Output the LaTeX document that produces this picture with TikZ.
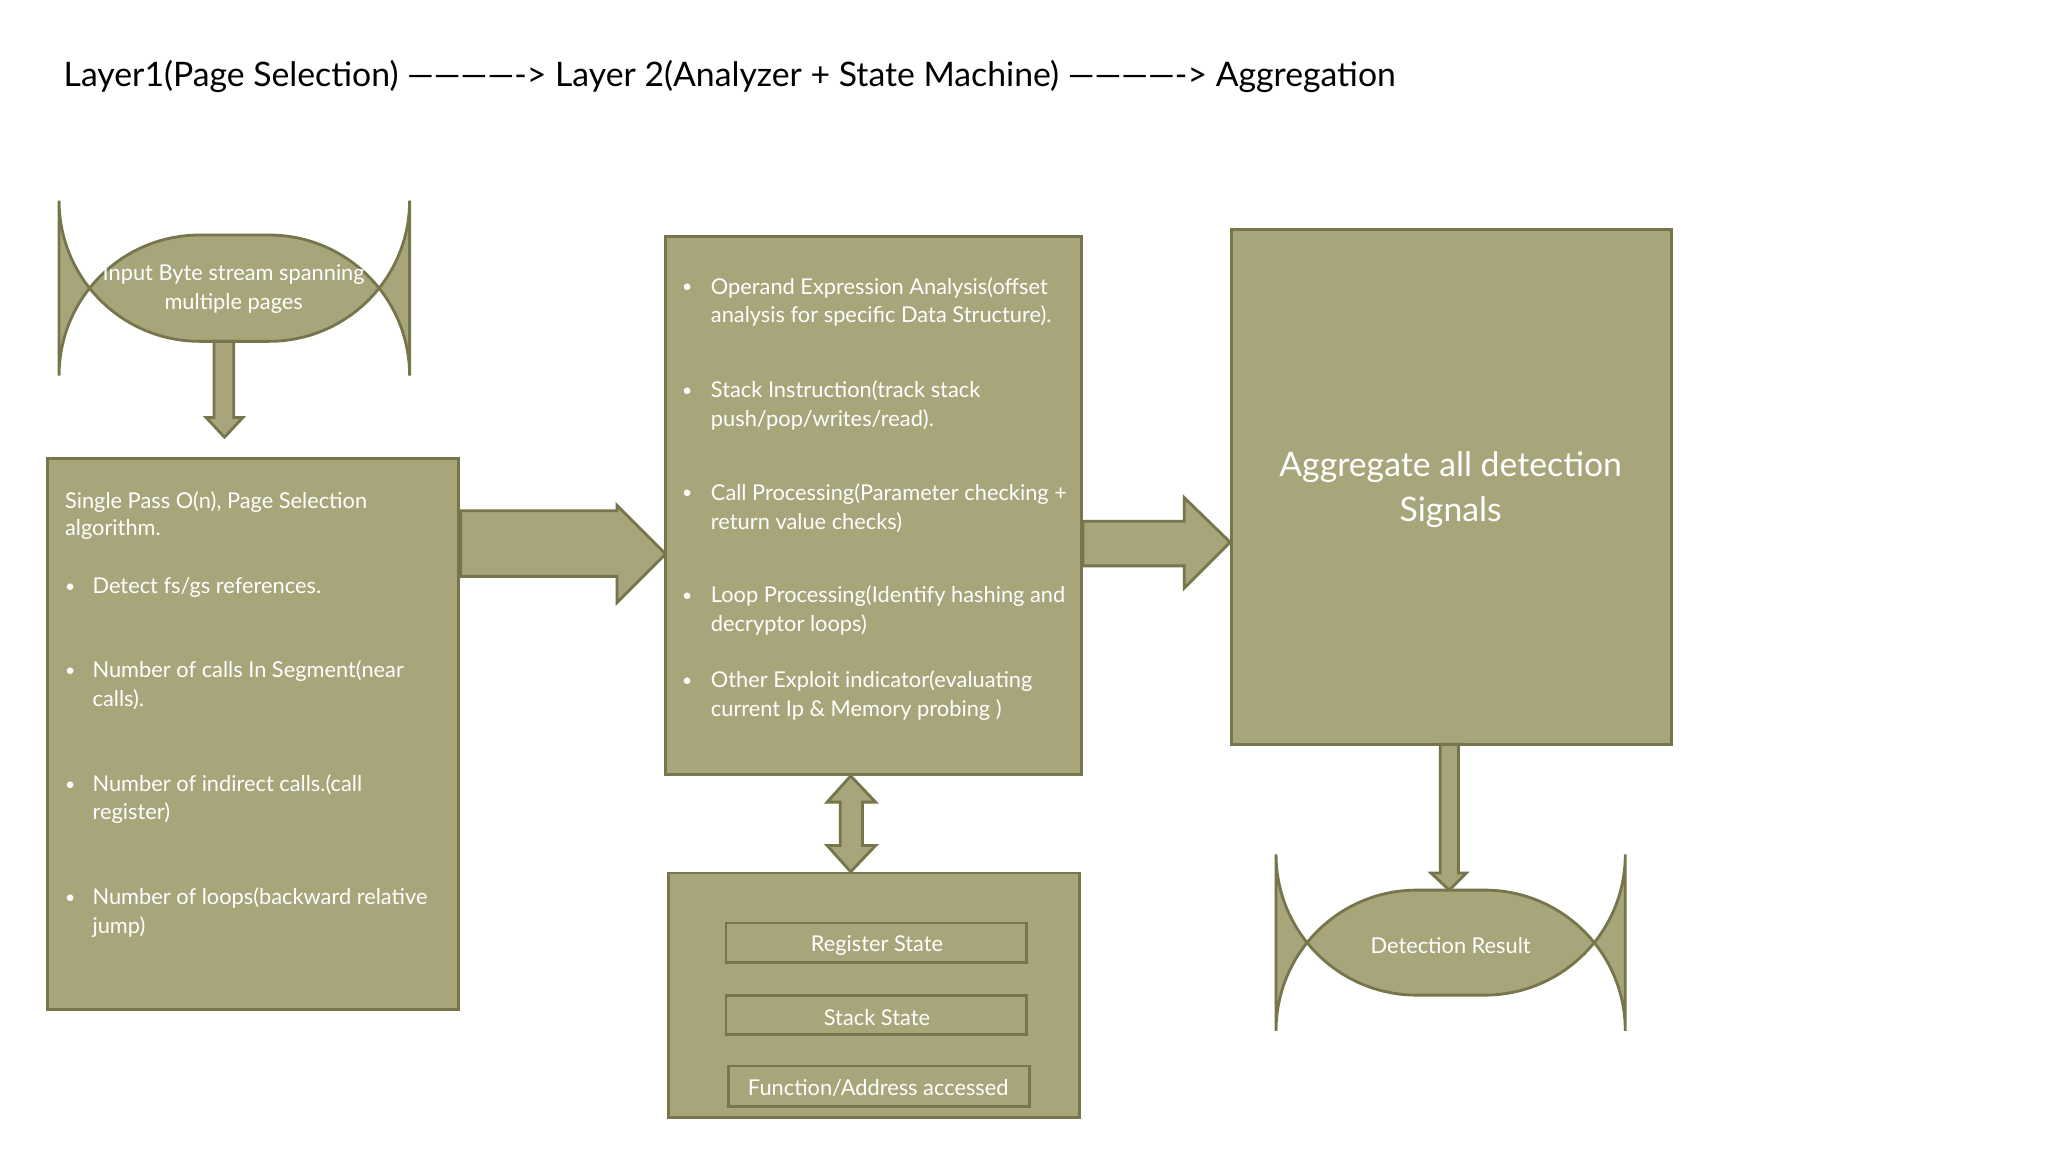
\documentclass[tikz,border=0pt]{standalone}
\usepackage{fontspec}
\setmainfont{Lato}
\definecolor{fillc}{HTML}{A8A57B}
\definecolor{edgec}{HTML}{76754C}
\begin{document}
\begin{tikzpicture}[x=0.013128cm,y=-0.013128cm,
  blk/.style={fill=fillc,draw=edgec,line width=0.8pt},
  txt/.style={text=white,font=\fontsize{6.2}{8.2}\selectfont,inner sep=0pt,anchor=base west},
  ctxt/.style={text=white,font=\fontsize{6.2}{8.2}\selectfont,align=center},
  bul/.style={text=white,font=\fontsize{5}{6}\selectfont,inner sep=0pt,anchor=base west}]
\useasboundingbox[fill=white] (0,0) rectangle (1560,877.5);
\node[anchor=west,inner sep=0pt,font=\fontsize{9.6}{11}\selectfont] (title) at (48,58)
 {Layer1(Page Selection) -------------> Layer 2(Analyzer + State Machine) -------------> Aggregation};
% oval
\draw[blk,rounded corners=40] (45,179) rectangle (312,260);
\node[ctxt] (inp) at (178,220) {Input Byte stream spanning\\multiple pages};
% down arrow 1
\draw[blk] (163,260) -- (178,260) -- (178,318) -- (185,318) -- (171,333) -- (157,318) -- (163,318) -- cycle;
% left box
\draw[blk] (36,349) rectangle (349,769);
\node[txt] (l1) at (49,387) {Single Pass O(n), Page Selection};
\node[txt] (l2) at (49,408) {algorithm.};
\foreach \y/\t in {452/{Detect fs/gs references.},516/{Number of calls In Segment(near},538/{calls).},603/{Number of indirect calls.(call},624/{register)},689/{Number of loops(backward relative},711/{jump)}}
  \node[txt] at (70,\y) {\t};
\foreach \y in {452,516,603,689} \node[bul] at (49,\y-1) {•};
% arrow right 1
\draw[blk] (351,389) -- (470,389) -- (470,385) -- (507,422) -- (470,459) -- (470,439) -- (351,439) -- cycle;
% middle box
\draw[blk] (507,180) rectangle (824,590);
\foreach \y/\t in {224/{Operand Expression Analysis(offset},246/{analysis for specific Data Structure).},303/{Stack Instruction(track stack},325/{push/pop/writes/read).},381/{Call Processing(Parameter checking +},403/{return value checks)},459/{Loop Processing(Identify hashing and},481/{decryptor loops)},524/{Other Exploit indicator(evaluating},546/{current Ip \& Memory probing )}}
  \node[txt] at (541,\y) {\t};
\foreach \y in {224,303,381,459,524} \node[bul] at (519,\y-1) {•};
% arrow right 2
\draw[blk] (825,397) -- (902,397) -- (902,379) -- (937,413) -- (902,448) -- (902,431) -- (825,431) -- cycle;
% right box
\draw[blk] (938,175) rectangle (1273,567);
\node[ctxt,font=\fontsize{9.6}{12.6}\selectfont] (agg) at (1105,373) {Aggregate all detection\\Signals};
% down arrow 2
\draw[blk] (1097,567) -- (1111,567) -- (1111,665) -- (1117,665) -- (1104,678) -- (1090,665) -- (1097,665) -- cycle;
% detection oval
\draw[blk,rounded corners=40] (972,678) rectangle (1238,758);
\node[ctxt] (det) at (1105,720) {Detection Result};
% double arrow
\draw[blk] (648,591) -- (667,611) -- (657,611) -- (657,644) -- (667,644) -- (648,664) -- (630,644) -- (640,644) -- (640,611) -- (630,611) -- cycle;
% bottom box
\draw[blk] (509,665) rectangle (822,851);
\draw[blk] (553,703) rectangle (782,733);
\draw[blk] (553,758) rectangle (782,788);
\draw[blk] (555,812) rectangle (784,843);
\node[ctxt] (rs) at (668,720) {Register State};
\node[ctxt] (ss) at (668,775) {Stack State};
\node[ctxt] (fa) at (669,829) {Function/Address accessed};
\end{tikzpicture}
\end{document}
